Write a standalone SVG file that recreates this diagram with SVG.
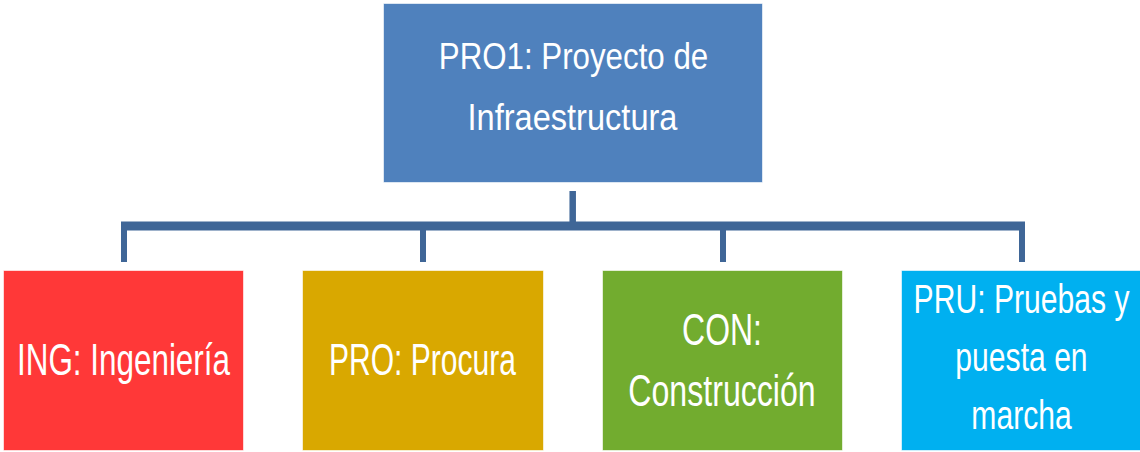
<svg xmlns="http://www.w3.org/2000/svg" width="1140" height="452" viewBox="0 0 1140 452">
<style>
.box{stroke:#ffffff;stroke-opacity:0.6;stroke-width:1}
.t{font-family:"Liberation Sans",Arial,sans-serif;fill:#ffffff;text-anchor:middle}
.top{font-size:37px}
.bot{font-size:45px}
.pru{font-size:40px}
.conn{stroke:#3F6697;fill:none;stroke-linecap:butt}
</style>
<rect width="1140" height="452" fill="#ffffff"/>
<g id="connectors">
<line class="conn" x1="572.7" y1="191" x2="572.7" y2="226" stroke-width="6.5"/>
<line class="conn" x1="121" y1="226" x2="1025" y2="226" stroke-width="9"/>
<line class="conn" x1="124" y1="226" x2="124" y2="262" stroke-width="6"/>
<line class="conn" x1="423" y1="226" x2="423" y2="262" stroke-width="6"/>
<line class="conn" x1="723" y1="226" x2="723" y2="262" stroke-width="6"/>
<line class="conn" x1="1022" y1="226" x2="1022" y2="262" stroke-width="6"/>
</g>
<g id="pro1">
<rect class="box" x="383.5" y="3.5" width="379" height="179" fill="#4F81BD"/>
<text class="t top" transform="translate(573.5,69) scale(0.845,1)">PRO1: Proyecto de</text>
<text class="t top" transform="translate(572.5,130) scale(0.88,1)">Infraestructura</text>
</g>
<g id="ing">
<rect class="box" x="3.5" y="270.5" width="240" height="180" fill="#FF3838"/>
<text class="t bot" transform="translate(123.5,375) scale(0.698,1)">ING: Ingeniería</text>
</g>
<g id="pro">
<rect class="box" x="302.5" y="270.5" width="241" height="180" fill="#D9A800"/>
<text class="t bot" transform="translate(422.5,375) scale(0.668,1)">PRO: Procura</text>
</g>
<g id="con">
<rect class="box" x="602.5" y="270.5" width="240" height="180" fill="#72AC2F"/>
<text class="t bot" transform="translate(722,345) scale(0.71,1)">CON:</text>
<text class="t bot" transform="translate(722,406) scale(0.714,1)">Construcción</text>
</g>
<g id="pru">
<rect class="box" x="901.5" y="270.5" width="239" height="180" fill="#00B0F0"/>
<text class="t pru" transform="translate(1021.5,313) scale(0.753,1)">PRU: Pruebas y</text>
<text class="t pru" transform="translate(1021.5,371) scale(0.753,1)">puesta en</text>
<text class="t pru" transform="translate(1021.5,429) scale(0.753,1)">marcha</text>
</g>
</svg>
